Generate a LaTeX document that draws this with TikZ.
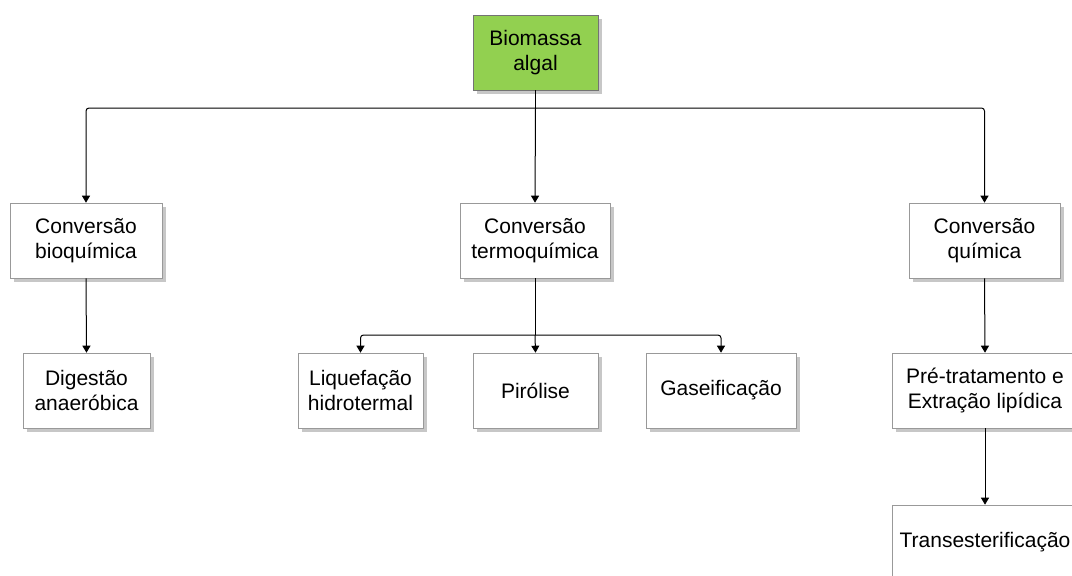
\documentclass[tikz,border=0pt]{standalone}
\usepackage{fontspec}
\setmainfont{Liberation Sans}
\usetikzlibrary{shadows,arrows.meta}
\definecolor{algagreen}{RGB}{146,208,80}
\tikzset{
  box/.style={draw=black!40, line width=0.6pt, fill=white, minimum height=75pt,
    align=center, inner sep=2pt, font=\fontsize{21}{25.5}\selectfont,
    drop shadow={shadow xshift=3.5pt, shadow yshift=-4pt, fill=black!40, opacity=0.55}},
  arr/.style={draw=black, line width=1pt, -{Triangle[length=7pt,width=8pt]}, rounded corners=3pt},
  ln/.style={draw=black, line width=1pt, rounded corners=3pt}
}
\begin{document}
\begin{tikzpicture}[x=1pt,y=-1pt]
\useasboundingbox (0,0) rectangle (1072,576);
\node[box, fill=algagreen, draw=black!55, minimum width=125pt] (bio) at (535.5,52.5) {Biomassa\\algal};
\node[box, minimum width=152pt] (bioq) at (86,240.5) {Conversão\\bioquímica};
\node[box, minimum width=150pt] (termo) at (535,240.5) {Conversão\\termoquímica};
\node[box, minimum width=151pt] (quim) at (984.5,240.5) {Conversão\\química};
\node[box, minimum width=127pt] (dig) at (86.5,390.5) {Digestão\\anaeróbica};
\node[box, minimum width=125pt] (liq) at (360.5,390.5) {Liquefação\\hidrotermal};
\node[box, minimum width=125pt] (pir) at (535.5,390.5) {Pirólise};
\node[box, minimum width=150pt] (gas) at (721,390.5) {Gaseificação};
\node[box, minimum width=186pt] (pre) at (985,390.5) {Pré-tratamento e\\Extração lipídica};
\node[box, minimum width=186pt] (trans) at (985,542.5) {Transesterificação};

\coordinate (j1) at (bio.south |- 0,108);
\coordinate (j2) at (termo.south |- 0,335);
\draw[ln] (bio.south) -- (j1);
\draw[arr] (j1) -| (bioq.north);
\draw[arr] (j1) -| (quim.north);
\draw[arr] (j1) -- (termo.north);
\draw[arr] (bioq.south) -- (dig.north);
\draw[ln] (termo.south) -- (j2);
\draw[arr] (j2) -| (liq.north);
\draw[arr] (j2) -| (gas.north);
\draw[arr] (j2) -- (pir.north);
\draw[arr] (quim.south) -- (pre.north);
\draw[arr] (pre.south) -- (trans.north);
\end{tikzpicture}
\end{document}
